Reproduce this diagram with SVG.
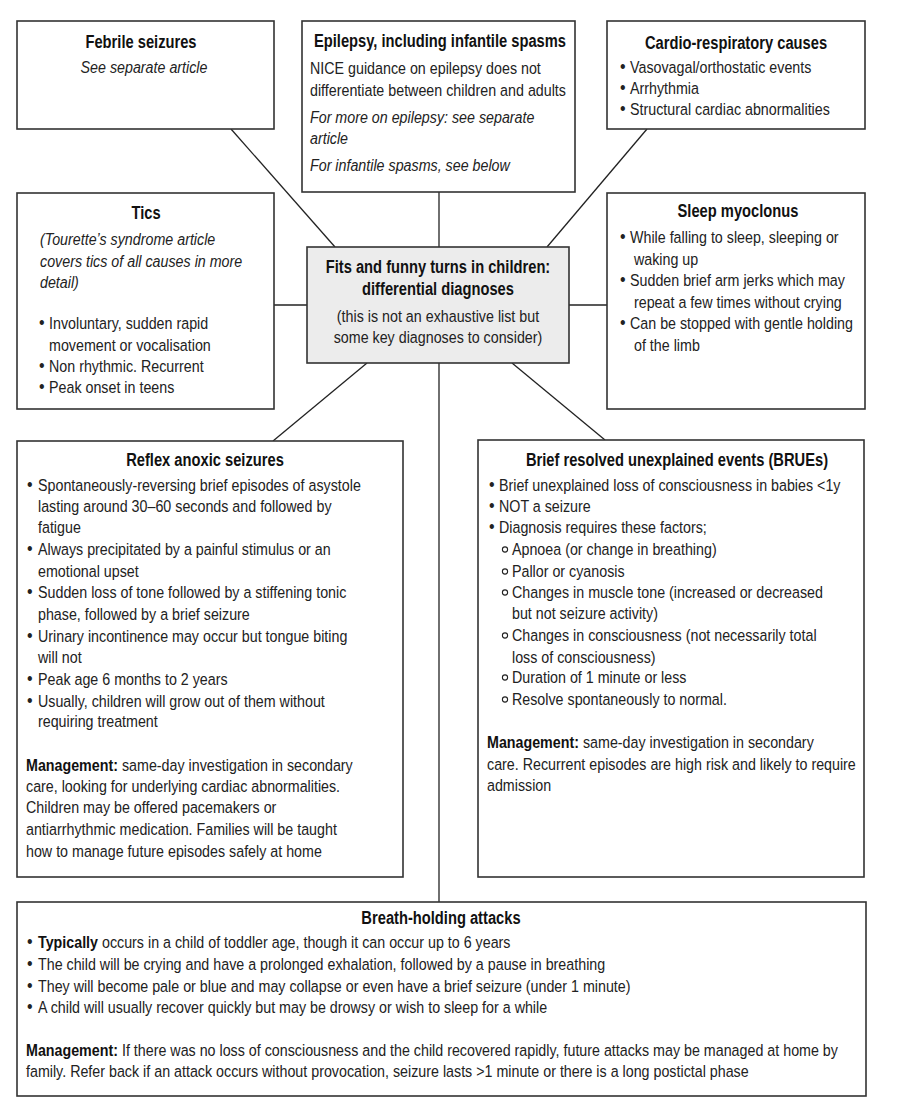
<svg xmlns="http://www.w3.org/2000/svg" width="897" height="1104" viewBox="0 0 897 1104">
<style>
.bg{fill:#ffffff}
.box{fill:#ffffff;stroke:#333333;stroke-width:1.6}
.hub{fill:#ececec;stroke:#333333;stroke-width:1.6}
.ln{stroke:#222222;stroke-width:1.3;fill:none}
text{font-family:"Liberation Sans",Arial,sans-serif;font-size:17px;fill:#222222}
.h{font-weight:bold;font-size:17.5px;text-anchor:middle;fill:#111111}
.c{text-anchor:middle}
.i{font-style:italic}
.b{font-weight:bold;fill:#111111}
.d{font-size:19px}
.sub{fill:none;stroke:#222222;stroke-width:1.1}
</style>
<rect class="bg" x="0" y="0" width="897" height="1104"/>

<g id="connectors">
<line class="ln" x1="231" y1="129" x2="335" y2="247"/>
<line class="ln" x1="439" y1="192" x2="439" y2="247"/>
<line class="ln" x1="647" y1="129" x2="547" y2="247"/>
<line class="ln" x1="274" y1="305" x2="307" y2="305"/>
<line class="ln" x1="569" y1="305" x2="607" y2="305"/>
<line class="ln" x1="367" y1="363" x2="273" y2="441"/>
<line class="ln" x1="512" y1="363" x2="605" y2="440"/>
<line class="ln" x1="439" y1="363" x2="439" y2="902"/>
</g>

<g id="febrile">
<rect class="box" x="17" y="21" width="257" height="108"/>
<g transform="scale(0.84 1)">
<text class="h" x="167.86" y="48">Febrile seizures</text>
<text class="c i" x="171.43" y="73">See separate article</text>
</g>
</g>

<g id="epilepsy">
<rect class="box" x="302" y="21" width="273" height="171"/>
<g transform="scale(0.84 1)">
<text class="h" x="523.81" y="47">Epilepsy, including infantile spasms</text>
<text x="369.05" y="74">NICE guidance on epilepsy does not</text>
<text x="369.05" y="96">differentiate between children and adults</text>
<text class="i" x="369.05" y="123">For more on epilepsy: see separate</text>
<text class="i" x="369.05" y="144">article</text>
<text class="i" x="369.05" y="171">For infantile spasms, see below</text>
</g>
</g>

<g id="cardio">
<rect class="box" x="607" y="21" width="258" height="108"/>
<g transform="scale(0.84 1)">
<text class="h" x="876.19" y="49">Cardio-respiratory causes</text>
<text class="d" x="738.10" y="73">•</text><text x="750" y="73">Vasovagal/orthostatic events</text>
<text class="d" x="738.10" y="94">•</text><text x="750" y="94">Arrhythmia</text>
<text class="d" x="738.10" y="115">•</text><text x="750" y="115">Structural cardiac abnormalities</text>
</g>
</g>

<g id="tics">
<rect class="box" x="17" y="193" width="257" height="216"/>
<g transform="scale(0.84 1)">
<text class="h" x="173.81" y="219">Tics</text>
<text class="i" x="47.62" y="245">(Tourette’s syndrome article</text>
<text class="i" x="47.62" y="267">covers tics of all causes in more</text>
<text class="i" x="47.62" y="288">detail)</text>
<text class="d" x="46.43" y="329">•</text><text x="58.33" y="329">Involuntary, sudden rapid</text>
<text x="58.33" y="351">movement or vocalisation</text>
<text class="d" x="46.43" y="372">•</text><text x="58.33" y="372">Non rhythmic. Recurrent</text>
<text class="d" x="46.43" y="393">•</text><text x="58.33" y="393">Peak onset in teens</text>
</g>
</g>

<g id="hub">
<rect class="hub" x="307" y="247" width="262" height="116"/>
<g transform="scale(0.84 1)">
<text class="h" x="521.43" y="273">Fits and funny turns in children:</text>
<text class="h" x="521.43" y="295">differential diagnoses</text>
<text class="c" x="521.43" y="322">(this is not an exhaustive list but</text>
<text class="c" x="521.43" y="343">some key diagnoses to consider)</text>
</g>
</g>

<g id="sleep">
<rect class="box" x="607" y="193" width="258" height="216"/>
<g transform="scale(0.84 1)">
<text class="h" x="878.57" y="217">Sleep myoclonus</text>
<text class="d" x="738.10" y="243">•</text><text x="750" y="243">While falling to sleep, sleeping or</text>
<text x="754.76" y="265">waking up</text>
<text class="d" x="738.10" y="286">•</text><text x="750" y="286">Sudden brief arm jerks which may</text>
<text x="754.76" y="308">repeat a few times without crying</text>
<text class="d" x="738.10" y="329">•</text><text x="750" y="329">Can be stopped with gentle holding</text>
<text x="754.76" y="351">of the limb</text>
</g>
</g>

<g id="reflex">
<rect class="box" x="17" y="441" width="386" height="436"/>
<g transform="scale(0.84 1)">
<text class="h" x="244.05" y="466">Reflex anoxic seizures</text>
<text class="d" x="32.14" y="491">•</text><text x="45.24" y="491">Spontaneously-reversing brief episodes of asystole</text>
<text x="45.24" y="512">lasting around 30–60 seconds and followed by</text>
<text x="45.24" y="533">fatigue</text>
<text class="d" x="32.14" y="555">•</text><text x="45.24" y="555">Always precipitated by a painful stimulus or an</text>
<text x="45.24" y="577">emotional upset</text>
<text class="d" x="32.14" y="598">•</text><text x="45.24" y="598">Sudden loss of tone followed by a stiffening tonic</text>
<text x="45.24" y="620">phase, followed by a brief seizure</text>
<text class="d" x="32.14" y="642">•</text><text x="45.24" y="642">Urinary incontinence may occur but tongue biting</text>
<text x="45.24" y="663">will not</text>
<text class="d" x="32.14" y="685">•</text><text x="45.24" y="685">Peak age 6 months to 2 years</text>
<text class="d" x="32.14" y="707">•</text><text x="45.24" y="707">Usually, children will grow out of them without</text>
<text x="45.24" y="727">requiring treatment</text>
<text x="30.95" y="771"><tspan class="b">Management:</tspan> same-day investigation in secondary</text>
<text x="30.95" y="792">care, looking for underlying cardiac abnormalities.</text>
<text x="30.95" y="813">Children may be offered pacemakers or</text>
<text x="30.95" y="835">antiarrhythmic medication. Families will be taught</text>
<text x="30.95" y="857">how to manage future episodes safely at home</text>
</g>
</g>

<g id="brue">
<rect class="box" x="478" y="440" width="386" height="437"/>
<circle class="sub" cx="505" cy="549.5" r="2.6"/>
<circle class="sub" cx="505" cy="571.5" r="2.6"/>
<circle class="sub" cx="505" cy="592.5" r="2.6"/>
<circle class="sub" cx="505" cy="635.5" r="2.6"/>
<circle class="sub" cx="505" cy="677.5" r="2.6"/>
<circle class="sub" cx="505" cy="699.5" r="2.6"/>
<g transform="scale(0.84 1)">
<text class="h" x="805.95" y="466">Brief resolved unexplained events (BRUEs)</text>
<text class="d" x="582.14" y="491">•</text><text x="594.05" y="491">Brief unexplained loss of consciousness in babies &lt;1y</text>
<text class="d" x="582.14" y="512">•</text><text x="594.05" y="512">NOT a seizure</text>
<text class="d" x="582.14" y="533">•</text><text x="594.05" y="533">Diagnosis requires these factors;</text>
<text x="609.52" y="555">Apnoea (or change in breathing)</text>
<text x="609.52" y="577">Pallor or cyanosis</text>
<text x="609.52" y="598">Changes in muscle tone (increased or decreased</text>
<text x="609.52" y="619">but not seizure activity)</text>
<text x="609.52" y="641">Changes in consciousness (not necessarily total</text>
<text x="609.52" y="663">loss of consciousness)</text>
<text x="609.52" y="683">Duration of 1 minute or less</text>
<text x="609.52" y="705">Resolve spontaneously to normal.</text>
<text x="579.76" y="748"><tspan class="b">Management:</tspan> same-day investigation in secondary</text>
<text x="579.76" y="770">care. Recurrent episodes are high risk and likely to require</text>
<text x="579.76" y="791">admission</text>
</g>
</g>

<g id="breath">
<rect class="box" x="17" y="902" width="849" height="194"/>
<g transform="scale(0.84 1)">
<text class="h" x="525" y="924">Breath-holding attacks</text>
<text class="d" x="32.14" y="948">•</text><text x="45.24" y="948"><tspan class="b">Typically</tspan> occurs in a child of toddler age, though it can occur up to 6 years</text>
<text class="d" x="32.14" y="970">•</text><text x="45.24" y="970">The child will be crying and have a prolonged exhalation, followed by a pause in breathing</text>
<text class="d" x="32.14" y="992">•</text><text x="45.24" y="992">They will become pale or blue and may collapse or even have a brief seizure (under 1 minute)</text>
<text class="d" x="32.14" y="1013">•</text><text x="45.24" y="1013">A child will usually recover quickly but may be drowsy or wish to sleep for a while</text>
<text x="30.95" y="1056"><tspan class="b">Management:</tspan> If there was no loss of consciousness and the child recovered rapidly, future attacks may be managed at home by</text>
<text x="30.95" y="1077">family. Refer back if an attack occurs without provocation, seizure lasts &gt;1 minute or there is a long postictal phase</text>
</g>
</g>
</svg>
